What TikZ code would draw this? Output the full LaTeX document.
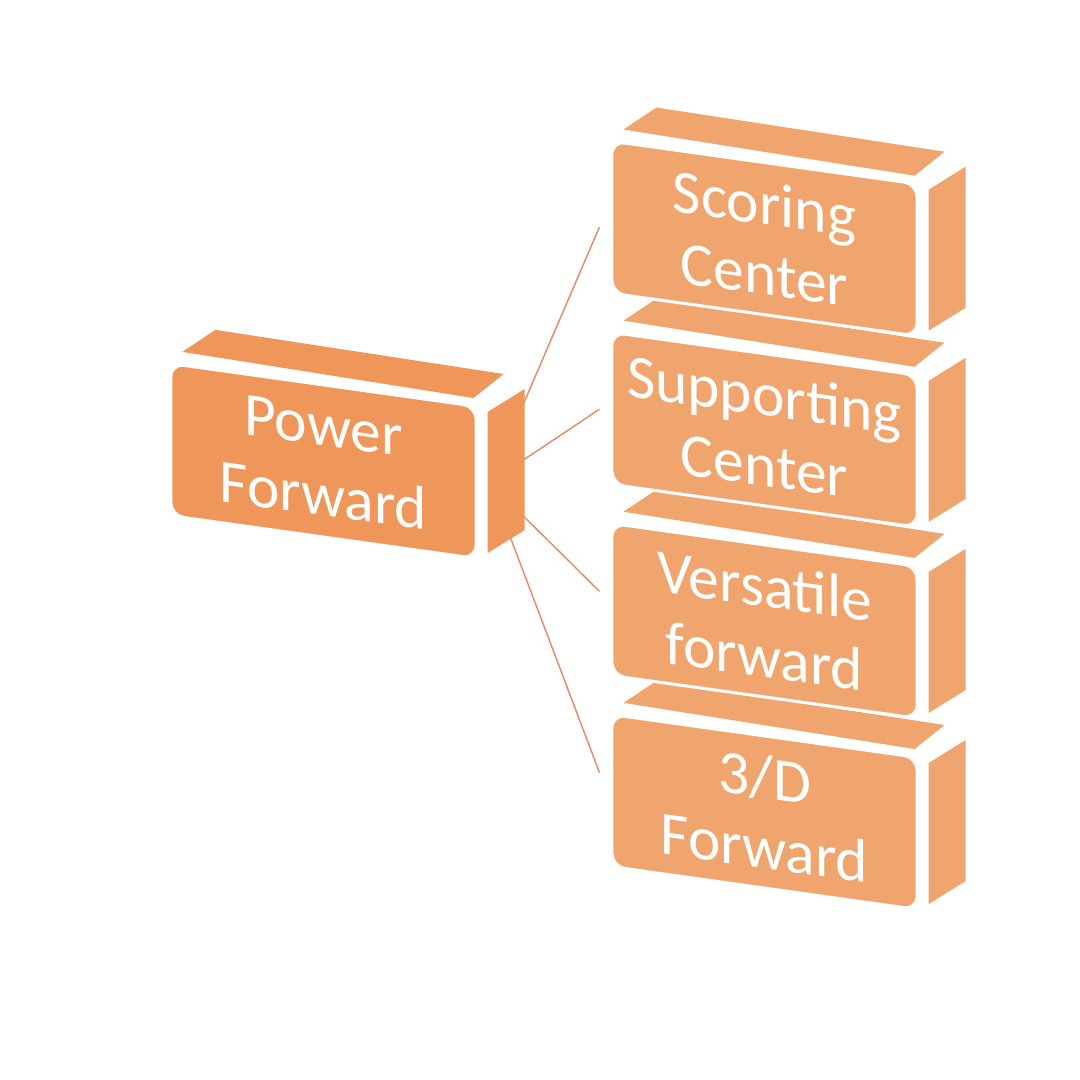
\documentclass[tikz,border=0pt]{standalone}
\usepackage{fontspec}
\setmainfont{Carlito}
\usetikzlibrary{calc,positioning}
\definecolor{pf-orange}{HTML}{EF965A}
\definecolor{pos-orange}{HTML}{F0A56F}
\definecolor{link-orange}{HTML}{E38F6D}
\pgfdeclarelayer{background}
\pgfsetlayers{background,main}

\tikzset{
  brick/.style={draw=white, line width=0.03cm, rounded corners=0.13cm,
    minimum width=3.05cm, minimum height=1.52cm, inner sep=0pt, yslant=-0.14,
    align=center, text=white, font=\fontsize{17.5}{20}\selectfont},
  link/.style={link-orange, line width=0.015cm},
}

% top and right faces of a brick
\newcommand{\brickfaces}[2]{%
  \fill[#2] ($(#1.north west)+(13,-10)$) -- ($(#1.north east)+(-4,-7)$)
    -- ++(30,-24) -- ($(#1.north west)+(46,-32)$) -- cycle;
  \fill[#2] ($(#1.north east)+(10,7)$) -- ++(37,-23)
    -- ($(#1.south east)+(47,-30)$) -- ($(#1.south east)+(10,-7)$) -- cycle;
}

\begin{document}
\begin{tikzpicture}[x=0.01cm, y=-0.01cm]
    \useasboundingbox (0,0) rectangle (1080,1080);

    % power forward
    \node[brick, fill=pf-orange] (pf) at (323.5,461) {Power\\Forward};
    \brickfaces{pf}{pf-orange}

    % positions, bottom first
    \node[brick, fill=pos-orange] (td) at (764.5,812) {3/D\\Forward};
    \brickfaces{td}{pos-orange}
    \node[brick, fill=pos-orange, above=0.36cm of td] (vf) {Versatile\\forward};
    \brickfaces{vf}{pos-orange}
    \node[brick, fill=pos-orange, above=0.36cm of vf] (su) {Supporting\\Center};
    \brickfaces{su}{pos-orange}
    \node[brick, fill=pos-orange, above=0.36cm of su] (sc) {Scoring\\Center};
    \brickfaces{sc}{pos-orange}

    % links
    \coordinate (hub) at ($(pf.east)+(12,0)$);
    \begin{pgfonlayer}{background}
        \foreach \n/\dy in {sc/10, su/1, vf/-8, td/-18}
            \draw[link] (hub) -- ($(\n.west)+(-11,\dy)$);
    \end{pgfonlayer}
\end{tikzpicture}
\end{document}
